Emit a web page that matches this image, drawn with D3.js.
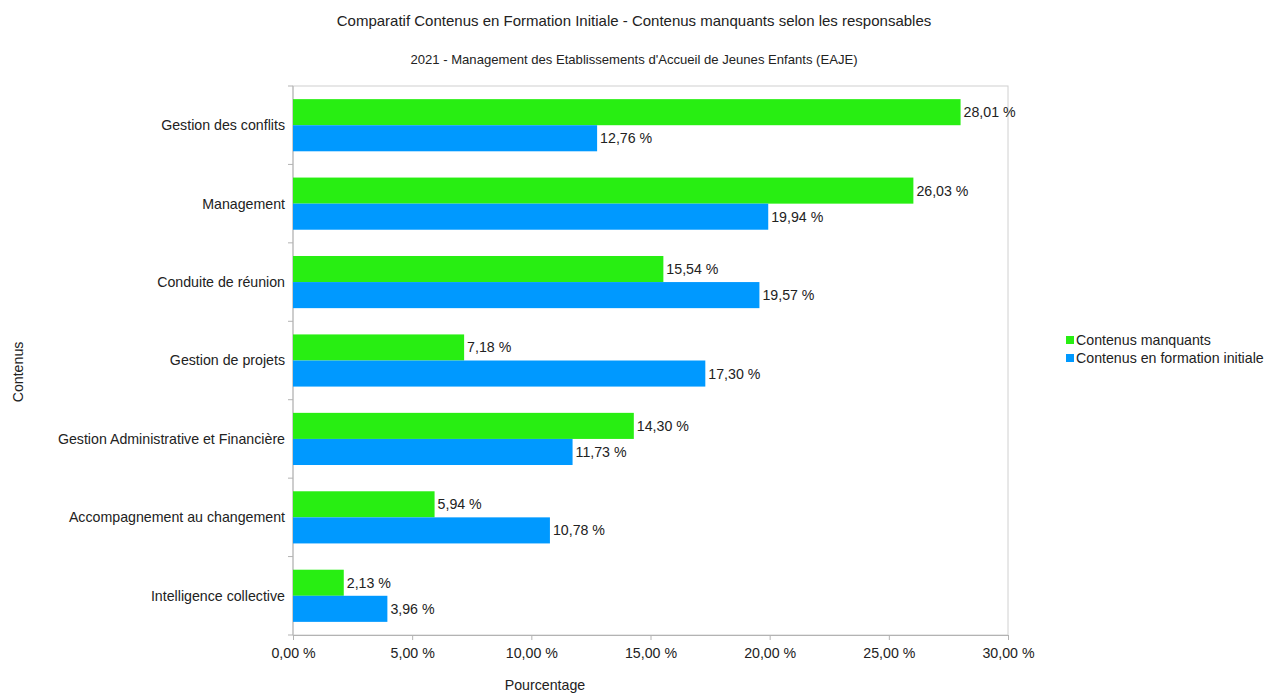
<!DOCTYPE html>
<html><head><meta charset="utf-8">
<script src="https://cdn.jsdelivr.net/npm/d3@7"></script>
<style>body{margin:0;background:#fff}svg{display:block;font-family:"Liberation Sans",Arial,sans-serif}</style>
</head><body><svg id="c" width="1267" height="693"></svg>
<script>
const categories = ["Gestion des conflits","Management","Conduite de réunion","Gestion de projets","Gestion Administrative et Financière","Accompagnement au changement","Intelligence collective"];
const seriesNames = ["Contenus manquants","Contenus en formation initiale"];
const manquants = [28.01,26.03,15.54,7.18,14.30,5.94,2.13];
const formation = [12.76,19.94,19.57,17.30,11.73,10.78,3.96];
const xTicks = [0,5,10,15,20,25,30];
const colors = ["#28ee12","#0099ff"];

const svg = d3.select("#c");
const L=293,R=1008,T=86,B=635;
const FS=14.2;
const x = d3.scaleLinear().domain([0,30]).range([L,R]);
const y = d3.scaleBand().domain(categories).range([T,B]).paddingInner(0.335).paddingOuter(0.1675);
const fmt = v => d3.format(".2f")(v).replace(".",",")+" %";

svg.append("rect").attr("x",L).attr("y",T).attr("width",R-L).attr("height",B-T).attr("fill","none").attr("stroke","#d0d0d0");

const xa = svg.append("g").attr("transform",`translate(0,${B})`).call(d3.axisBottom(x).tickValues(xTicks).tickSize(5).tickFormat(fmt));
xa.select(".domain").attr("stroke","#b3b3b3");
xa.selectAll("line").attr("stroke","#b3b3b3");
xa.selectAll("text").attr("font-size",FS).attr("fill","#222").attr("dy","1.05em").attr("font-family","Liberation Sans, Arial, sans-serif");

const step = (B-T)/categories.length;
const ya = svg.append("g");
ya.append("line").attr("x1",L).attr("x2",L).attr("y1",T).attr("y2",B).attr("stroke","#b3b3b3");
d3.range(categories.length+1).forEach(i=>{
  ya.append("line").attr("x1",L-5).attr("x2",L).attr("y1",T+i*step).attr("y2",T+i*step).attr("stroke","#b3b3b3");
});
ya.selectAll("text.cat").data(categories).enter().append("text").attr("class","cat")
  .attr("x",L-8).attr("y",d=>y(d)+y.bandwidth()/2).attr("dy","0.35em").attr("text-anchor","end")
  .attr("font-size",FS).attr("fill","#222").text(d=>d);

const sub = d3.scaleBand().domain([0,1]).range([0,y.bandwidth()]);
[manquants,formation].forEach((arr,si)=>{
  const g = svg.append("g");
  g.selectAll("rect").data(arr).enter().append("rect")
    .attr("x",x(0)).attr("y",(d,i)=>y(categories[i])+sub(si))
    .attr("width",d=>x(d)-x(0)).attr("height",sub.bandwidth()).attr("fill",colors[si]);
  g.selectAll("text").data(arr).enter().append("text")
    .attr("x",d=>x(d)+3).attr("y",(d,i)=>y(categories[i])+sub(si)+sub.bandwidth()/2).attr("dy","0.35em")
    .attr("font-size",FS).attr("fill","#222").text(fmt);
});

svg.append("text").attr("x",634).attr("y",26).attr("text-anchor","middle").attr("font-size",15).attr("fill","#222")
  .text("Comparatif Contenus en Formation Initiale - Contenus manquants selon les responsables");
svg.append("text").attr("x",634).attr("y",64).attr("text-anchor","middle").attr("font-size",13.1).attr("fill","#222")
  .text("2021 - Management des Etablissements d'Accueil de Jeunes Enfants (EAJE)");
svg.append("text").attr("x",545).attr("y",690).attr("text-anchor","middle").attr("font-size",FS).attr("fill","#222").text("Pourcentage");
svg.append("text").attr("transform","translate(23,372) rotate(-90)").attr("text-anchor","middle").attr("font-size",FS).attr("fill","#222").text("Contenus");

const lg = svg.append("g");
seriesNames.forEach((n,i)=>{
  lg.append("rect").attr("x",1066).attr("y",336+i*18).attr("width",8).attr("height",8).attr("fill",colors[i]);
  lg.append("text").attr("x",1076).attr("y",340+i*18).attr("dy","0.35em").attr("font-size",FS).attr("fill","#222").text(n);
});
</script></body></html>
